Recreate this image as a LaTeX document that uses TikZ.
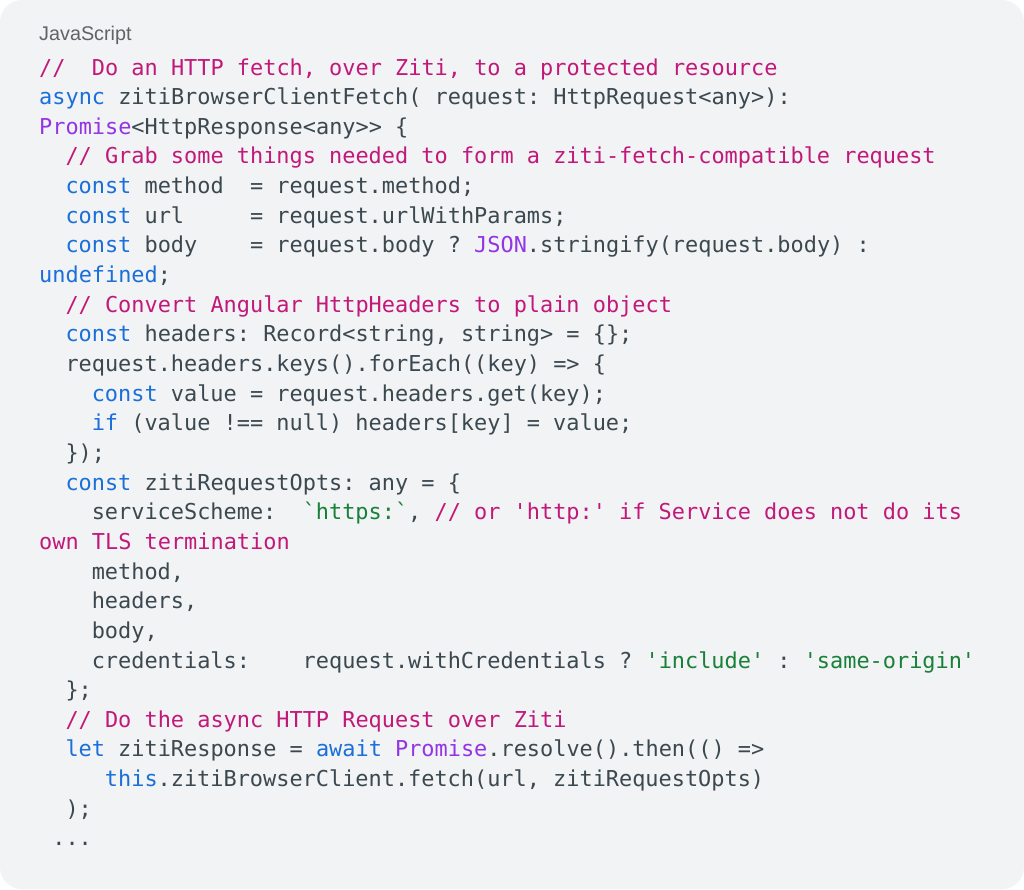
\documentclass[tikz,border=0pt]{standalone}
\usepackage{fontspec}
\setmainfont{Liberation Sans}
\setmonofont{DejaVu Sans Mono}
\definecolor{bgc}{HTML}{F1F3F4}
\definecolor{cmtc}{HTML}{C2187A}
\definecolor{kwc}{HTML}{1A6FD9}
\definecolor{tyc}{HTML}{9334E6}
\definecolor{strc}{HTML}{188038}
\definecolor{txtc}{HTML}{3C4850}
\definecolor{lblc}{HTML}{5F6368}
\newcommand\ccm[1]{\textcolor{cmtc}{#1}}
\newcommand\ckw[1]{\textcolor{kwc}{#1}}
\newcommand\cty[1]{\textcolor{tyc}{#1}}
\newcommand\cstr[1]{\textcolor{strc}{#1}}
\begin{document}
\begin{tikzpicture}[x=1pt,y=-1pt,
  code/.style={anchor=base west, inner sep=0pt, text=txtc,
    font=\ttfamily\frenchspacing\fontsize{21.9}{26}\selectfont},
  lbl/.style={anchor=base west, inner sep=0pt, text=lblc,
    font=\fontsize{19.8}{22}\selectfont}]
\fill[white] (0,0) rectangle (1024,889);
\useasboundingbox (0,0) rectangle (1024,889);
\fill[bgc, rounded corners=22pt] (0,0) rectangle (1024,889);
\def\cw{13.15}
\def\lh{29.65}
\node[lbl] (label) at (39,40.5) {JavaScript};
\node[code] (l1) at (39,75+0*\lh) {\ccm{//\ \ Do an HTTP fetch, over Ziti, to a protected resource}};
\node[code] (l2) at (39,75+1*\lh) {\ckw{async} zitiBrowserClientFetch( request: HttpRequest<any>):};
\node[code] (l3) at (39,75+2*\lh) {\cty{Promise}<HttpResponse<any>{}> \{};
\node[code] (l4) at (39+2*\cw,75+3*\lh) {\ccm{// Grab some things needed to form a ziti-fetch-compatible request}};
\node[code] (l5) at (39+2*\cw,75+4*\lh) {\ckw{const} method\ \ = request.method;};
\node[code] (l6) at (39+2*\cw,75+5*\lh) {\ckw{const} url\ \ \ \ \ = request.urlWithParams;};
\node[code] (l7) at (39+2*\cw,75+6*\lh) {\ckw{const} body\ \ \ \ = request.body ? \cty{JSON}.stringify(request.body) :};
\node[code] (l8) at (39,75+7*\lh) {\ckw{undefined};};
\node[code] (l9) at (39+2*\cw,75+8*\lh) {\ccm{// Convert Angular HttpHeaders to plain object}};
\node[code] (l10) at (39+2*\cw,75+9*\lh) {\ckw{const} headers: Record<string, string> = \{\};};
\node[code] (l11) at (39+2*\cw,75+10*\lh) {request.headers.keys().forEach((key) => \{};
\node[code] (l12) at (39+4*\cw,75+11*\lh) {\ckw{const} value = request.headers.get(key);};
\node[code] (l13) at (39+4*\cw,75+12*\lh) {\ckw{if} (value !== null) headers[key] = value;};
\node[code] (l14) at (39+2*\cw,75+13*\lh) {\});};
\node[code] (l15) at (39+2*\cw,75+14*\lh) {\ckw{const} zitiRequestOpts: any = \{};
\node[code] (l16) at (39+4*\cw,75+15*\lh) {serviceScheme:\ \ \cstr{`https:`}, \ccm{// or 'http:' if Service does not do its}};
\node[code] (l17) at (39,75+16*\lh) {\ccm{own TLS termination}};
\node[code] (l18) at (39+4*\cw,75+17*\lh) {method,};
\node[code] (l19) at (39+4*\cw,75+18*\lh) {headers,};
\node[code] (l20) at (39+4*\cw,75+19*\lh) {body,};
\node[code] (l21) at (39+4*\cw,75+20*\lh) {credentials:\ \ \ \ request.withCredentials ? \cstr{'include'} : \cstr{'same-origin'}};
\node[code] (l22) at (39+2*\cw,75+21*\lh) {\};};
\node[code] (l23) at (39+2*\cw,75+22*\lh) {\ccm{// Do the async HTTP Request over Ziti}};
\node[code] (l24) at (39+2*\cw,75+23*\lh) {\ckw{let} zitiResponse = \ckw{await} \cty{Promise}.resolve().then(() =>};
\node[code] (l25) at (39+5*\cw,75+24*\lh) {\ckw{this}.zitiBrowserClient.fetch(url, zitiRequestOpts)};
\node[code] (l26) at (39+2*\cw,75+25*\lh) {);};
\node[code] (l27) at (39+1*\cw,75+26*\lh) {...};
\end{tikzpicture}
\end{document}
